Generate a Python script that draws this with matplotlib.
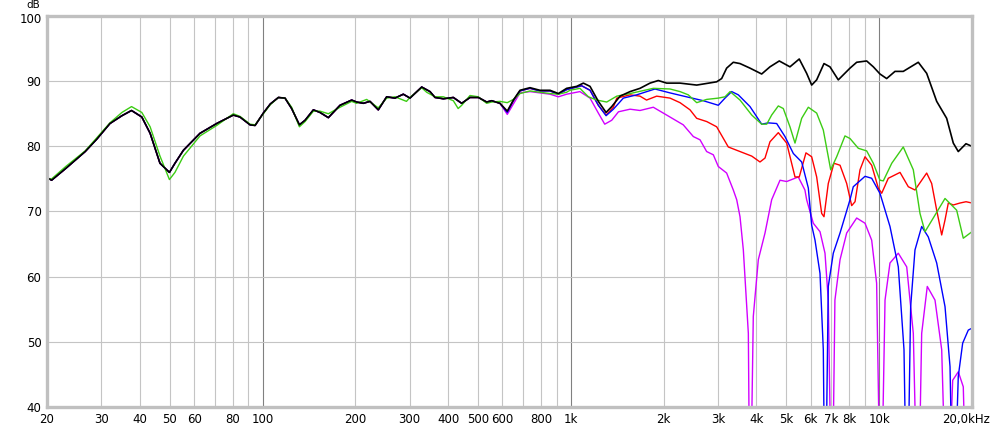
import numpy as np
import matplotlib
matplotlib.use("Agg")
import matplotlib.pyplot as plt
import matplotlib.transforms as mtransforms

# shared response below ~600 Hz (black / blue / red / magenta overlap there)
base_f = [20, 20.7, 23, 26.6, 29, 32.0, 35, 37.6, 40.6, 43.2, 46.5, 49.9, 52, 55.4,
          62.7, 71.0, 80.4, 84.5, 91.1, 94.6, 100.6, 106, 112.6, 118.3, 124.3, 131.7,
          137.4, 146.2, 153.6, 163.5, 178.4, 194.6, 201.9, 212.3, 223.1, 237.4, 252.7,
          268.9, 286.2, 300.8, 328.3, 349.3, 362.6, 385.9, 415.8, 442.6, 470.9, 501.2,
          533.3, 553.6, 589.1]
base_db = [75.2, 74.8, 76.6, 79.2, 81.1, 83.5, 84.7, 85.5, 84.5, 82.0, 77.4, 76.0, 77.4, 79.4,
           82.0, 83.5, 84.8, 84.5, 83.3, 83.2, 85.1, 86.5, 87.5, 87.4, 85.8, 83.3,
           84.0, 85.6, 85.2, 84.4, 86.3, 87.1, 86.8, 86.6, 86.9, 85.6, 87.6,
           87.4, 88.0, 87.4, 89.1, 88.4, 87.5, 87.3, 87.5, 86.6, 87.5, 87.5,
           86.8, 87.0, 86.6]

black_f = [622, 651, 684, 737, 794, 856, 911, 969, 1044, 1098, 1154, 1228, 1301, 1357,
           1444, 1556, 1676, 1806, 1921, 2045, 2260, 2560, 2971, 3084, 3201, 3364, 3537,
           3811, 4158, 4424, 4742, 5136, 5505, 5818, 6040, 6270, 6622, 6924, 7368, 8042,
           8454, 9108, 9572, 10058, 10574, 11252, 11970, 13392, 14258, 15364, 16552,
           17392, 18052, 19120, 20000]
black_db = [85.4, 87.1, 88.6, 89.0, 88.6, 88.6, 88.1, 88.9, 89.2, 89.7, 89.2, 86.9, 85.2, 86.1,
            87.7, 88.4, 88.9, 89.7, 90.1, 89.7, 89.7, 89.4, 89.9, 90.4, 92.0, 92.9, 92.7,
            92.0, 91.1, 92.2, 93.1, 92.2, 93.4, 91.2, 89.4, 90.2, 92.7, 92.2, 90.2, 92.0,
            92.9, 93.1, 92.2, 91.1, 90.4, 91.5, 91.5, 92.9, 91.2, 86.9, 84.3,
            80.5, 79.2, 80.4, 80.0]

green_f = [20, 20.7, 23, 26.6, 29, 32.0, 35, 37.6, 40.6, 43.2, 46.5, 49.9, 52, 55.4,
           62.7, 71.0, 80.4, 84.5, 91.1, 94.6, 100.6, 106, 112.6, 118.3, 124.3, 131.7,
           137.4, 146.2, 153.6, 163.5, 178.4, 194.6, 201.9, 217.7, 237.4, 252.7, 268.9,
           293, 300.8, 328.3, 340.7, 362.6, 385.9, 415.8, 431, 442.6, 470.9, 501.2, 533.3,
           553.6, 589.1, 622, 651, 684, 737, 794, 856, 911, 969, 993, 1070, 1140, 1214,
           1307, 1409, 1556, 1851, 2097, 2260, 2404, 2560, 2757, 3008, 3162, 3285, 3537,
           3861, 4158, 4318, 4480, 4708, 4887, 5136, 5333, 5606, 5891, 6270, 6588, 6838,
           6962, 7280, 7745, 8042, 8557, 9108, 9572, 10058, 10313, 10983, 11970, 12902,
           13563, 14080, 14976, 16350, 17836, 18740, 20000]
green_db = [75.0, 75.0, 76.9, 79.3, 81.3, 83.6, 85.2, 86.1, 85.2, 83.0, 78.5, 74.9, 76.0, 78.5,
            81.6, 83.2, 85.0, 84.6, 83.4, 83.3, 85.0, 86.4, 87.5, 87.4, 86.0, 83.0,
            83.8, 85.4, 85.4, 85.0, 86.0, 86.9, 86.6, 87.2, 85.9, 87.4, 87.6,
            86.9, 87.5, 89.0, 88.3, 87.6, 87.6, 87.0, 85.8, 86.3, 87.8, 87.6, 86.6,
            86.8, 86.9, 86.7, 87.2, 88.1, 88.5, 88.3, 88.1, 88.0, 88.3, 88.6, 88.9, 87.6, 87.1,
            86.8, 87.7, 88.1, 88.9, 88.8, 88.4, 87.9, 86.7, 87.2, 87.4, 87.6, 88.4, 87.1,
            84.8, 83.4, 83.4, 84.8, 86.2, 85.8, 83.0, 80.5, 84.3, 86.0, 85.1, 82.5, 78.4,
            76.4, 78.4, 81.6, 81.2, 79.7, 79.3, 77.4, 74.8, 74.7, 77.4, 79.9, 76.4,
            69.7, 66.9, 69.0, 72.0, 70.2, 65.9, 66.9]

blue_f = [622, 651, 684, 737, 794, 856, 911, 969, 1084, 1154, 1228, 1301, 1374, 1480,
          1635, 1874, 2097, 2372, 2688, 3008, 3162, 3324, 3493, 3811, 4158, 4368, 4651,
          4949, 5267, 5606, 5891, 6040, 6193, 6428, 6588, 6680, 6838, 7098, 7465, 8042,
          8241, 8996, 9455, 10058, 10840, 11535, 12036, 12310, 12649, 13065, 13735,
          14428, 15364, 16350, 16972, 17400, 18052, 18655, 19455, 20000]
blue_db = [85.2, 87.0, 88.5, 88.9, 88.5, 88.5, 88.0, 88.7, 89.3, 88.6, 86.3, 84.7, 85.7, 87.4,
           87.9, 88.8, 88.2, 87.6, 87.0, 86.3, 87.4, 88.4, 87.9, 86.1, 83.4, 83.6, 83.5,
           81.5, 78.9, 77.6, 73.6, 67.9, 65.6, 60.5, 48.8, 20.0, 58.5, 63.6, 66.7, 71.8,
           73.8, 75.4, 75.1, 72.8, 67.7, 61.5, 48.8, 20.0, 55.4, 64.1, 67.7,
           66.1, 62.1, 55.4, 46.2, 20.0, 44.7, 49.8, 51.8, 52.1]

red_f = [622, 651, 684, 737, 794, 856, 911, 969, 1084, 1154, 1228, 1301, 1374, 1409,
         1556, 1676, 1760, 1898, 2097, 2260, 2435, 2559, 2759, 2971, 3241, 3537, 3861,
         4106, 4263, 4424, 4708, 5012, 5333, 5505, 5788, 6040, 6270, 6509, 6622, 6838,
         7134, 7465, 7845, 8143, 8350, 8666, 8996, 9455, 9934, 10189, 10705, 11684,
         12429, 13065, 14258, 14799, 15364, 15949, 16350, 16758, 17392, 18280, 19130, 20000]
red_db = [85.3, 87.0, 88.5, 88.9, 88.5, 88.5, 88.0, 88.7, 89.3, 88.6, 86.3, 84.8, 86.0, 87.4,
          87.9, 87.7, 87.1, 87.7, 87.4, 86.7, 85.6, 84.3, 83.8, 83.0, 79.9, 79.2, 78.5,
          77.6, 78.2, 80.7, 82.1, 80.5, 75.3, 75.3, 79.0, 78.4, 75.3, 69.7, 69.2, 74.3,
          77.4, 77.1, 74.3, 70.9, 71.5, 76.4, 78.4, 77.1, 73.6, 72.8, 75.1, 76.0,
          73.8, 73.3, 75.9, 74.3, 70.2, 66.4, 68.7, 71.3, 71.0, 71.3, 71.5, 71.3]

magenta_f = [622, 651, 684, 737, 794, 856, 911, 969, 1070, 1154, 1228, 1288, 1357, 1427,
             1556, 1676, 1851, 2045, 2315, 2496, 2624, 2757, 2898, 3008, 3201, 3364, 3451,
             3537, 3626, 3764, 3811, 3906, 4055, 4263, 4480, 4768, 5012, 5464, 5743, 5818,
             6114, 6428, 6672, 6838, 7030, 7185, 7465, 7845, 8454, 8996, 9455, 9811, 10120,
             10446, 10840, 11535, 12283, 12902, 13360, 13735, 14321, 15172, 15949, 16600,
             17312, 18052, 18740, 19300]
magenta_db = [84.9, 86.5, 88.2, 88.4, 88.2, 88.0, 87.6, 88.0, 88.4, 87.4, 85.1, 83.4, 84.0, 85.3,
              85.7, 85.5, 86.0, 84.8, 83.3, 81.5, 81.0, 79.2, 78.7, 76.9, 75.9, 73.3, 71.8,
              69.2, 64.1, 51.3, 20.0, 53.9, 62.6, 66.7, 71.8, 74.8, 74.6, 75.3, 73.3, 71.8,
              68.2, 66.9, 63.6, 56.4, 20.0, 56.4, 62.6, 66.7, 69.0, 68.2, 65.6, 59.0, 20.0,
              56.4, 62.1, 63.6, 61.5, 51.3, 20.0, 51.3, 58.5, 56.4, 48.8, 20.0,
              44.1, 45.4, 43.1, 20.0]

xtick_f = [20, 30, 40, 50, 60, 80, 100, 200, 300, 400, 500, 600, 800, 1000,
           2000, 3000, 4000, 5000, 6000, 7000, 8000, 10000, 20000]
xtick_lab = ["20", "30", "40", "50", "60", "80", "100", "200", "300", "400", "500", "600",
             "800", "1k", "2k", "3k", "4k", "5k", "6k", "7k", "8k", "10k", "20,0kHz"]
ytick_db = [40, 50, 60, 70, 80, 90, 100]

fig = plt.figure(figsize=(9.95, 4.28), dpi=100)
ax = fig.add_axes([47/995, 1-407/428, 925/995, 391/428])

# vertical grid: every 1..9 step per decade, decades darker
for dec in [10, 100, 1000, 10000]:
    for m in range(1, 10):
        f = dec * m
        if 20 < f < 20000:
            c = "#808080" if m == 1 else "#c4c4c4"
            ax.axvline(f, color=c, lw=0.8, zorder=0)
for d in ytick_db[1:-1]:
    ax.axhline(d, color="#c4c4c4", lw=0.8, zorder=0)

low_f = np.array(base_f)
low_db = np.array(base_db)
series = [
    (magenta_f, magenta_db, "#d200ff", 1.0),
    (red_f, red_db, "#ff0000", 1.0),
    (blue_f, blue_db, "#0000ff", 1.0),
    (black_f, black_db, "#000000", 1.2),
]
for f, d, c, lw in series:
    ff = np.concatenate([low_f, f])
    dd = np.concatenate([low_db, d])
    if c == "#000000":
        ax.plot(green_f, green_db, color="#3ccc14", lw=1.0)
    ax.plot(ff, dd, color=c, lw=lw)

ax.set_xscale("log")
ax.set_xlim(20, 20000)
ax.set_ylim(40, 100)
ax.set_xticks(xtick_f)
ax.set_xticklabels(xtick_lab)
ax.xaxis.set_minor_locator(matplotlib.ticker.NullLocator())
ax.set_yticks(ytick_db)
ax.tick_params(length=0, labelsize=8.5, pad=4)
# last label sits a bit left so it stays inside the image
last = ax.get_xticklabels()[-1]
last.set_transform(last.get_transform() + mtransforms.ScaledTranslation(-6/100, 0, fig.dpi_scale_trans))
# top y label nudged down a touch so the unit above it has room
top = ax.get_yticklabels()[-1]
top.set_transform(top.get_transform() + mtransforms.ScaledTranslation(0, -2/100, fig.dpi_scale_trans))
for s in ax.spines.values():
    s.set_color("#c0c0c0")
    s.set_linewidth(2.4)
fig.text(40/995, 1, "dB", ha="right", va="top", fontsize=7.5)

fig.savefig("out.png", dpi=100)
